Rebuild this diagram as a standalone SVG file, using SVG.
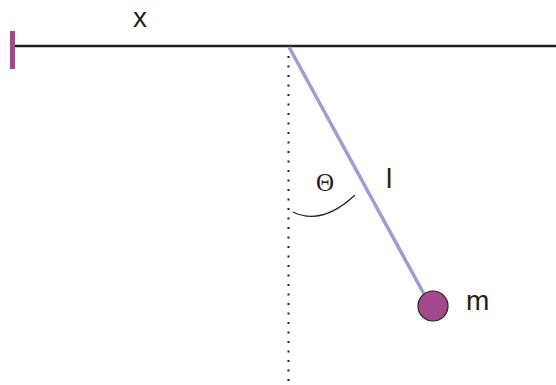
<svg xmlns="http://www.w3.org/2000/svg" width="556" height="385" viewBox="0 0 556 385">
<style>
.lbl{font-family:"Liberation Sans",Arial,sans-serif;font-size:28px;fill:#231f20}
</style>
<rect width="556" height="385" fill="#fff"/>
<g id="connectors">
<line id="ceiling" x1="14" y1="46" x2="556" y2="46" stroke="#231f20" stroke-width="2.5"/>
<line id="vertical" x1="288.5" y1="56" x2="288.5" y2="385" stroke="#231f20" stroke-width="2" stroke-dasharray="2 7.5"/>
<line id="rod" x1="289" y1="47" x2="424" y2="294" stroke="#a09bd3" stroke-width="3.5"/>
<path id="angle-arc" d="M293,212 Q322,226 355,195" fill="none" stroke="#231f20" stroke-width="1.2"/>
</g>
<g id="wall"><rect x="10" y="31" width="5" height="38" fill="#a3488b"/></g>
<g id="mass">
<circle cx="433" cy="306" r="15" fill="#a3488b" stroke="#231f20" stroke-width="1.2"/>
<text class="lbl" x="466" y="310">m</text>
</g>
<g id="label-x"><text class="lbl" x="133" y="27">x</text></g>
<g id="label-l"><text class="lbl" x="386" y="188">l</text></g>
<g id="label-theta"><text x="316" y="191" font-family="'Liberation Serif','Times New Roman',serif" font-size="25" fill="#231f20">Θ</text></g>
</svg>
